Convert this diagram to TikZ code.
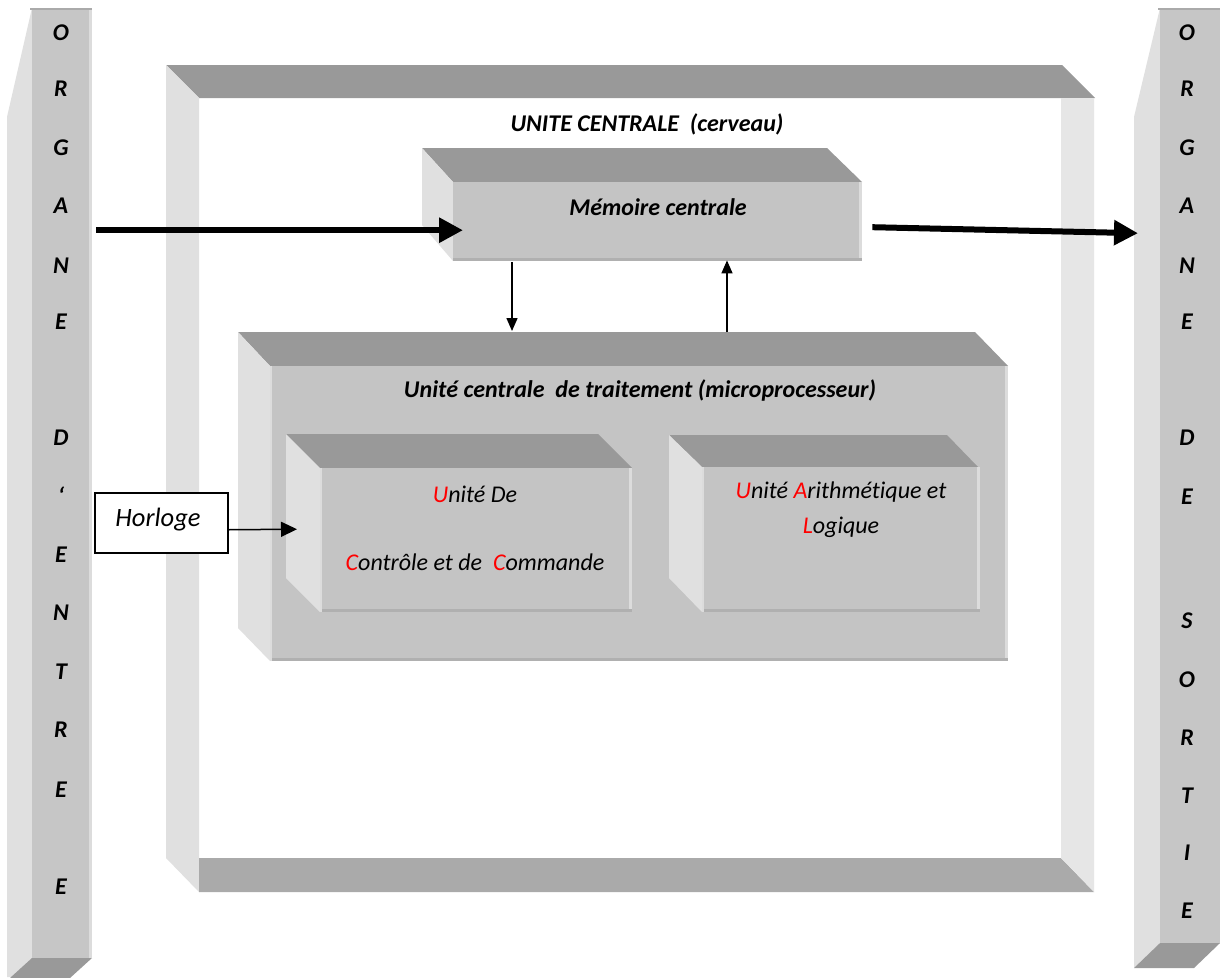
\documentclass[tikz,border=0pt]{standalone}
\usepackage{fontspec}
\setmainfont{Carlito}[Ligatures=NoCommon]
\usetikzlibrary{arrows.meta,calc}
\definecolor{topc}{HTML}{999999}
\definecolor{sidec}{HTML}{E0E0E0}
\definecolor{sidec2}{HTML}{E6E6E6}
\definecolor{frontc}{HTML}{C4C4C4}
\definecolor{colfront}{HTML}{C6C6C6}
\definecolor{botc}{HTML}{AAAAAA}
\definecolor{edgelight}{HTML}{DCDCDC}
\definecolor{edgedark}{HTML}{B0B0B0}
\definecolor{redl}{HTML}{FF0000}
\newcommand{\rl}[1]{\textcolor{redl}{#1}}
\begin{document}
\begin{tikzpicture}[x=1pt,y=-1pt,
  face/.style={fill=frontc, draw=none, inner sep=0pt, anchor=north west},
  colface/.style={fill=colfront, draw=none, inner sep=0pt, anchor=north west},
  letter/.style={font=\fontsize{24}{26}\selectfont\bfseries\itshape, inner sep=0pt},
  titletext/.style={font=\fontsize{24}{27}\selectfont\bfseries\itshape, inner sep=0pt},
  inner/.style={font=\fontsize{24}{28}\selectfont\itshape, inner sep=0pt},
  bigarrow/.style={line width=6pt, -{Triangle[length=24pt,width=24pt]}},
  smallarrow/.style={line width=1.5pt, -{Triangle[length=13pt,width=11pt]}},
  clockarrow/.style={line width=1.5pt, -{Triangle[length=16pt,width=15pt]}}
]
\useasboundingbox (0,0) rectangle (1220,977);
\fill[white] (0,0) rectangle (1220,977);

% ---------- big frame (unite centrale) ----------
\fill[topc] (166,65) -- (1062,65) -- (1095,98) -- (199,98) -- cycle;
\fill[sidec] (166,65) -- (199,98) -- (199,892) -- (166,858) -- cycle;
\fill[botc] (199,858) -- (1061,858) -- (1094,892) -- (199,892) -- cycle;
\fill[sidec2] (1061,98) -- (1094,98) -- (1094,892) -- (1061,858) -- cycle;

% ---------- left column (organe d'entree) ----------
\fill[sidec] (32,8) -- (7,117) -- (7,977) -- (32,977) -- cycle;
\node[colface, minimum width=60pt, minimum height=950pt] (entree) at (32,8) {};
\fill[botc] (30,8) rectangle (92,10);
\fill[edgelight] (89,10) rectangle (92,958);
\fill[topc] (32,958) -- (92,958) -- (70,978) -- (10,978) -- cycle;

% ---------- right column (organe de sortie) ----------
\fill[sidec] (1160,8) -- (1134,117) -- (1134,968) -- (1160,943) -- cycle;
\node[colface, minimum width=60pt, minimum height=935pt] (sortie) at (1160,8) {};
\fill[botc] (1158,8) rectangle (1220,10);
\fill[topc] (1160,943) -- (1220,943) -- (1194,968) -- (1134,968) -- cycle;

% ---------- letters ----------
\foreach \l/\y in {O/33,R/89,G/148,A/206,N/266,E/322,D/438,{‘}/496,E/555,N/613,T/672,R/730,E/790,E/887}
  \node[letter] at (61,\y) {\l};
\foreach \l/\y in {O/33,R/89,G/148,A/206,N/266,E/322,D/438,E/497,S/621,O/680,R/738,T/796,I/853,E/911}
  \node[letter] at (1187,\y) {\l};

% ---------- memoire centrale ----------
\fill[topc] (422,148) -- (827,148) -- (862,182) -- (453,182) -- cycle;
\fill[sidec] (422,148) -- (453,182) -- (453,261) -- (422,225) -- cycle;
\node[face, minimum width=409pt, minimum height=79pt] (mem) at (453,182) {};
\fill[edgelight] (859,182) rectangle (862,261);
\fill[edgedark] (453,258) rectangle (862,261);
\node[titletext] at (658,207) {Mémoire centrale};

% ---------- unite centrale de traitement ----------
\fill[topc] (238,332) -- (975,332) -- (1008,366) -- (270,366) -- cycle;
\fill[sidec] (238,332) -- (270,366) -- (270,661) -- (238,628) -- cycle;
\node[face, minimum width=738pt, minimum height=295pt] (cpu) at (270,366) {};
\fill[edgelight] (1005,366) rectangle (1008,661);
\fill[edgedark] (270,658) rectangle (1008,661);
\fill[edgelight] (270,366) rectangle (272,661);

% ---------- unite de controle ----------
\fill[topc] (286,434) -- (598,434) -- (632,468) -- (320,468) -- cycle;
\fill[sidec] (286,434) -- (320,468) -- (320,612) -- (286,578) -- cycle;
\node[face, minimum width=312pt, minimum height=144pt] (ucc) at (320,468) {};
\fill[edgelight] (629,468) rectangle (632,612);
\fill[edgedark] (320,609) rectangle (632,612);
\fill[edgelight] (320,468) rectangle (322,612);

% ---------- UAL ----------
\fill[topc] (669,435) -- (947,435) -- (978,467) -- (702,467) -- cycle;
\fill[sidec] (669,435) -- (702,467) -- (702,612) -- (669,578) -- cycle;
\node[face, minimum width=278pt, minimum height=145pt] (ual) at (702,467) {};
\fill[edgelight] (977,467) rectangle (980,612);
\fill[edgedark] (702,609) rectangle (980,612);
\fill[edgelight] (702,467) rectangle (704,612);

% ---------- texts ----------
\node[titletext] (uc) at (647,124) {UNITE CENTRALE\ \ (cerveau)};
\node[titletext] (cputitle) at (640,390) {Unité centrale\ \ de traitement (microprocesseur)};
\node[inner] (ucc1) at (475,494) {\rl{U}nité De};
\node[inner] (ucc2) at (475,562) {\rl{C}ontrôle et de\ \ \rl{C}ommande};
\node[inner] (ual1) at (841,492) {\rl{U}nité \rl{A}rithmétique et};
\node[inner] (ual2) at (841,527) {\rl{L}ogique};

% ---------- horloge ----------
\node[draw=black, line width=1.5pt, fill=white, minimum width=133pt, minimum height=60pt, inner sep=0pt, anchor=north west] (horl) at (94,492) {};
\node[font=\fontsize{26.5}{29}\selectfont\itshape, inner sep=0pt] at (158,520) {Horloge};

% ---------- connectors ----------
\coordinate (xd) at (512,0);
\coordinate (xu) at (727,0);
\draw[bigarrow] ($(entree.east)+(4,-253)$) -- ($(mem.west)+(10,8.5)$);
\draw[bigarrow] ($(mem.east)+(10,5.5)$) -- ($(sortie.west)+(-22,-242.5)$);
\draw[smallarrow] ($(mem.south -| xd)+(0,1)$) -- ($(cpu.north -| xd)+(0,-35)$);
\draw[smallarrow] ($(cpu.north -| xu)+(0,-34)$) -- ($(mem.south -| xu)+(0,-1)$);
\draw[clockarrow] ($(horl.east)+(0,7)$) -- ($(ucc.west)+(-23,-11)$);
\end{tikzpicture}
\end{document}
